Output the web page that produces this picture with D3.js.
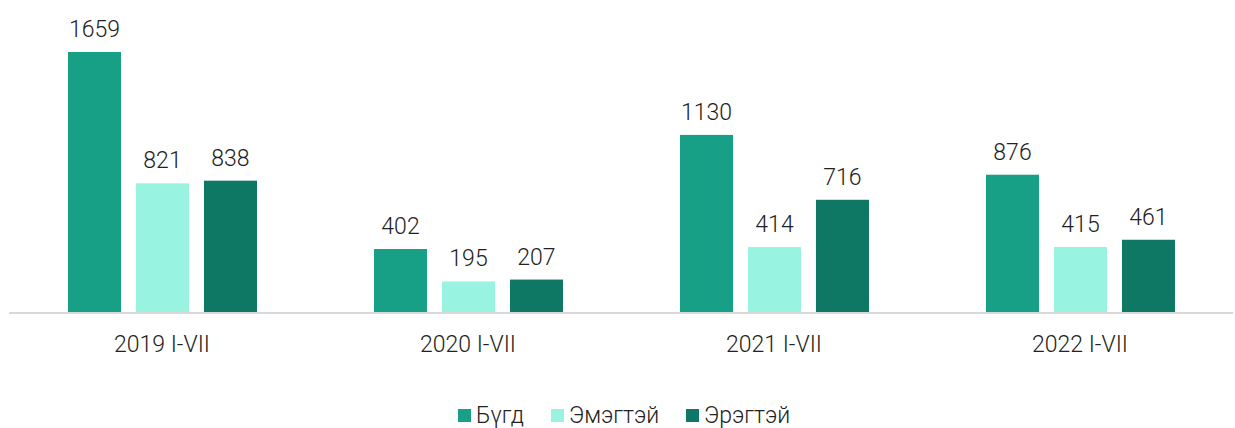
<!DOCTYPE html>
<html lang="en">
  <head>
    <meta charset="UTF-8" />
    <title>Chart</title>
    <style>
      body { margin: 0; background: #fff; }
      #viz { font-family: Roboto, sans-serif; font-weight: 300; }
    </style>
  </head>
  <body>
    <div id="viz"></div>
    <script src="https://cdnjs.cloudflare.com/ajax/libs/d3/7.8.5/d3.min.js"></script>
    <script>
      const categories = ["2019 I-VII", "2020 I-VII", "2021 I-VII", "2022 I-VII"];
      const seriesNames = ["Бүгд", "Эмэгтэй", "Эрэгтэй"];
      const total = [1659, 402, 1130, 876];
      const female = [821, 195, 414, 415];
      const male = [838, 207, 716, 461];
      const colors = ["#17a086", "#98f3e1", "#0f7865"];

      const width = 1235, height = 428;
      const left = 9, right = 1233, baseY = 312;

      const svg = d3.select("#viz").append("svg")
        .attr("width", width)
        .attr("height", height);

      const x = d3.scaleBand()
        .domain(categories)
        .range([left, right]);

      const x1 = d3.scaleBand()
        .domain(seriesNames)
        .range([59, 248])
        .paddingInner(0.22);

      const y = d3.scaleLinear()
        .domain([0, 1659])
        .range([baseY, 52]);

      const values = [total, female, male];
      const rows = [];
      categories.forEach((c, i) => {
        seriesNames.forEach((s, j) => {
          rows.push({ cat: c, series: s, value: values[j][i], color: colors[j] });
        });
      });

      svg.selectAll(".bar")
        .data(rows)
        .join("rect")
        .attr("class", "bar")
        .attr("x", d => x(d.cat) + x1(d.series))
        .attr("y", d => y(d.value))
        .attr("width", x1.bandwidth())
        .attr("height", d => baseY - y(d.value))
        .attr("fill", d => d.color);

      svg.selectAll(".val")
        .data(rows)
        .join("text")
        .attr("class", "val")
        .attr("x", d => x(d.cat) + x1(d.series) + x1.bandwidth() / 2)
        .attr("y", d => y(d.value) - 15)
        .attr("text-anchor", "middle")
        .attr("fill", "#222")
        .style("font-size", "23px")
        .text(d => d.value);

      svg.append("line")
        .attr("x1", left).attr("x2", right)
        .attr("y1", baseY + 1).attr("y2", baseY + 1)
        .attr("stroke", "#d9d9d9")
        .attr("stroke-width", 2);

      svg.selectAll(".cat")
        .data(categories)
        .join("text")
        .attr("class", "cat")
        .attr("x", d => x(d) + x.bandwidth() / 2)
        .attr("y", 352)
        .attr("text-anchor", "middle")
        .attr("fill", "#222")
        .style("font-size", "23px")
        .text(d => d);

      const legendX = [458, 551, 686];
      const lg = svg.selectAll(".lg")
        .data(seriesNames)
        .join("g")
        .attr("class", "lg")
        .attr("transform", (d, i) => `translate(${legendX[i]}, 409)`);
      lg.append("rect")
        .attr("width", 13).attr("height", 13)
        .attr("fill", (d, i) => colors[i]);
      lg.append("text")
        .attr("x", 18).attr("y", 14)
        .attr("fill", "#222")
        .style("font-size", "23px")
        .text(d => d);
    </script>
  </body>
</html>
